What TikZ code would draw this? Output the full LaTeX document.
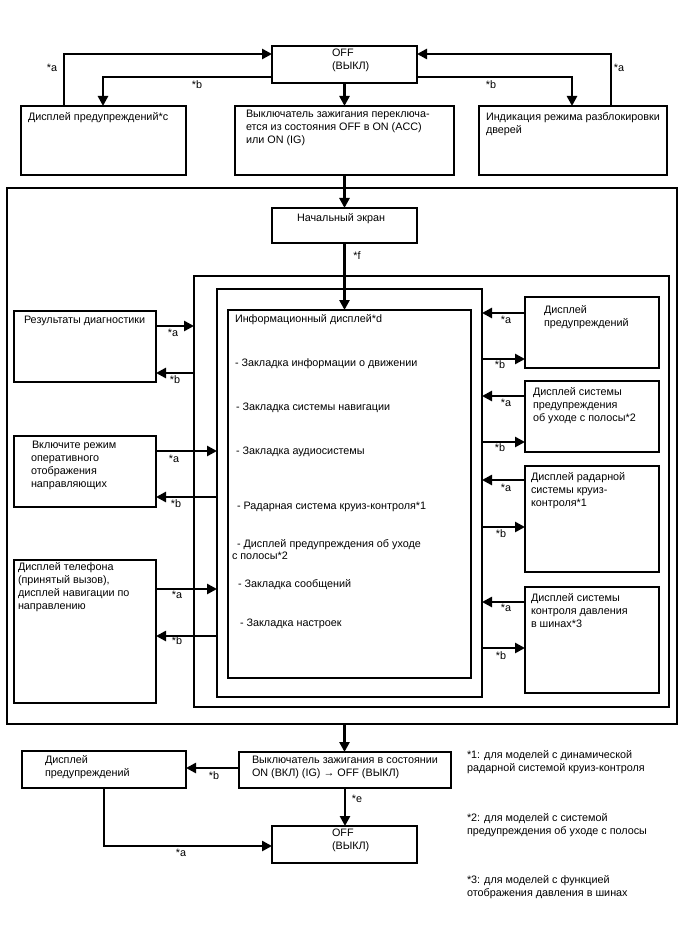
\documentclass[tikz,border=0pt]{standalone}
\usepackage{fontspec}
\setmainfont{Liberation Sans}
\usetikzlibrary{arrows.meta,calc}
\begin{document}
\begin{tikzpicture}[x=1pt,y=-1pt,
  box/.style={draw, line width=1.4pt, inner sep=0pt, outer sep=0pt, anchor=north west},
  frame/.style={draw, line width=1.6pt, inner sep=0pt, outer sep=0pt, anchor=north west},
  conn/.style={line width=2.6pt, -{Triangle[length=10pt,width=10pt]}},
  txt/.style={inner sep=0pt, outer sep=0pt, anchor=north west, align=left, font=\fontsize{10.8}{13}\selectfont},
  lab/.style={inner sep=0pt, font=\fontsize{10.8}{13}\selectfont}]
\useasboundingbox (0,0) rectangle (688,949);
\fill[white] (0,0) rectangle (688,949);
% ---------- top ----------
\node[box, minimum width=145pt, minimum height=37pt] (off1) at (272,46) {};
\node[box, minimum width=165pt, minimum height=69pt] (wc) at (21,106) {};
\node[box, minimum width=219pt, minimum height=69pt] (ign) at (235,106) {};
\node[box, minimum width=188pt, minimum height=69pt] (door) at (479,106) {};
\node[txt] (toff1) at (332,48.5) {OFF\\(ВЫКЛ)};
\node[txt] (twc) at (28,112.5) {Дисплей предупреждений*c};
\node[txt] (tign) at (246,110.5) {Выключатель зажигания переключа-\\ется из состояния OFF в ON (ACC)\\или ON (IG)};
\node[txt] (tdoor) at (486,112.5) {Индикация режима разблокировки\\дверей};
\draw[conn] ($(wc.north west)+(43,0)$) |- ($(off1.north west)+(0,8)$);
\draw[conn] ($(off1.south west)+(0,-6)$) -| ($(wc.north west)+(82,0)$);
\draw[conn] (off1.south) -- (ign.north);
\draw[conn] ($(off1.south east)+(0,-6)$) -| ($(door.north west)+(93,0)$);
\draw[conn] ($(door.north west)+(132,0)$) |- ($(off1.north east)+(0,8)$);
\node[lab] (la1) at (52,68) {*a};
\node[lab] (lb1) at (197,85) {*b};
\node[lab] (lb2) at (491,85) {*b};
\node[lab] (la2) at (619,68) {*a};
% ---------- frames ----------
\node[frame, minimum width=670pt, minimum height=536pt] (outer) at (7,188) {};
\node[frame, minimum width=475pt, minimum height=431pt] (fr2) at (194,276) {};
\node[frame, minimum width=265pt, minimum height=408pt] (fr3) at (217,289) {};
\node[box, minimum width=243pt, minimum height=368pt] (info) at (228,310) {};
\node[box, minimum width=145pt, minimum height=35pt] (start) at (272,208) {};
\node[txt] (tstart) at (297,213.5) {Начальный экран};
\draw[conn] (ign.south) -- (ign.south |- start.north);
\draw[conn] (start.south) -- (start.south |- info.north);
\node[lab] (lf) at (357,256) {*f};
% info text
\node[txt] (tinfo) at (235,314.5) {Информационный дисплей*d};
\node[txt] (i1) at (235,358.5) {- Закладка информации о движении};
\node[txt] (i2) at (236,402.5) {- Закладка системы навигации};
\node[txt] (i3) at (236,446.5) {- Закладка аудиосистемы};
\node[txt] (i4) at (237,502.5) {- Радарная система круиз-контроля*1};
\node[txt] (i5) at (237,539.5) {- Дисплей предупреждения об уходе};
\node[txt] (i5b) at (232,551.5) {с полосы*2};
\node[txt] (i6) at (238,579.5) {- Закладка сообщений};
\node[txt] (i7) at (240,618.5) {- Закладка настроек};
% ---------- left boxes ----------
\node[box, minimum width=142pt, minimum height=71pt] (diag) at (14,311) {};
\node[box, minimum width=142pt, minimum height=71pt] (guide) at (14,436) {};
\node[box, minimum width=142pt, minimum height=143pt] (phone) at (14,560) {};
\node[txt] (tdiag) at (24,316.5) {Результаты диагностики};
\node[txt] (tguide) at (31,441.5) {\hspace{1pt}Включите режим\\оперативного\\отображения\\направляющих};
\node[txt] (tphone) at (18,562.5) {Дисплей телефона\\(принятый вызов),\\дисплей навигации по\\направлению};
\coordinate (da) at ($(diag.north east)+(0,15)$);
\coordinate (db) at ($(diag.north east)+(0,62)$);
\coordinate (ga) at ($(guide.north east)+(0,15)$);
\coordinate (gb) at ($(guide.north east)+(0,61)$);
\coordinate (pa) at ($(phone.north east)+(0,29)$);
\coordinate (pb) at ($(phone.north east)+(0,76)$);
\draw[conn] (da) -- (da -| fr2.west);
\draw[conn] (db -| fr2.west) -- (db);
\draw[conn] (ga) -- (ga -| fr3.west);
\draw[conn] (gb -| fr3.west) -- (gb);
\draw[conn] (pa) -- (pa -| fr3.west);
\draw[conn] (pb -| fr3.west) -- (pb);
\node[lab] (lda) at (173,333) {*a};
\node[lab] (ldb) at (175,380) {*b};
\node[lab] (lga) at (174,459) {*a};
\node[lab] (lgb) at (176,504) {*b};
\node[lab] (lpa) at (177,595) {*a};
\node[lab] (lpb) at (177,641) {*b};
% ---------- right boxes ----------
\node[box, minimum width=134pt, minimum height=71pt] (wr1) at (525,297) {};
\node[box, minimum width=134pt, minimum height=71pt] (lane) at (525,381) {};
\node[box, minimum width=134pt, minimum height=106pt] (radar) at (525,466) {};
\node[box, minimum width=134pt, minimum height=106pt] (tire) at (525,587) {};
\node[txt] (twr1) at (544,305.5) {Дисплей\\предупреждений};
\node[txt] (tlane) at (533,387.5) {Дисплей системы\\предупреждения\\об уходе с полосы*2};
\node[txt] (tradar) at (531,472.5) {Дисплей радарной\\системы круиз-\\контроля*1};
\node[txt] (ttire) at (531,593.5) {Дисплей системы\\контроля давления\\в шинах*3};
\coordinate (wa) at ($(wr1.north west)+(0,16)$);
\coordinate (wb) at ($(wr1.north west)+(0,62)$);
\coordinate (na) at ($(lane.north west)+(0,15)$);
\coordinate (nb) at ($(lane.north west)+(0,61)$);
\coordinate (ra) at ($(radar.north west)+(0,14)$);
\coordinate (rb) at ($(radar.north west)+(0,61)$);
\coordinate (ta) at ($(tire.north west)+(0,15)$);
\coordinate (tb) at ($(tire.north west)+(0,61)$);
\draw[conn] (wa) -- (wa -| fr3.east);
\draw[conn] (wb -| fr3.east) -- (wb);
\draw[conn] (na) -- (na -| fr3.east);
\draw[conn] (nb -| fr3.east) -- (nb);
\draw[conn] (ra) -- (ra -| fr3.east);
\draw[conn] (rb -| fr3.east) -- (rb);
\draw[conn] (ta) -- (ta -| fr3.east);
\draw[conn] (tb -| fr3.east) -- (tb);
\node[lab] (lwa) at (506,320) {*a};
\node[lab] (lwb) at (500,365) {*b};
\node[lab] (lna) at (506,403) {*a};
\node[lab] (lnb) at (500,448) {*b};
\node[lab] (lra) at (506,488) {*a};
\node[lab] (lrb) at (501,534) {*b};
\node[lab] (lta) at (506,608) {*a};
\node[lab] (ltb) at (501,656) {*b};
% ---------- bottom ----------
\node[box, minimum width=212pt, minimum height=36pt] (ign2) at (239,752) {};
\node[box, minimum width=164pt, minimum height=37pt] (wp) at (22,751) {};
\node[box, minimum width=145pt, minimum height=37pt] (off2) at (272,826) {};
\node[txt] (tign2) at (252,756.5) {Выключатель зажигания в состоянии\\ON (ВКЛ) (IG) → OFF (ВЫКЛ)};
\node[txt] (twp) at (45,755.5) {Дисплей\\предупреждений};
\node[txt] (toff2) at (332,828.5) {OFF\\(ВЫКЛ)};
\draw[conn] (ign.south |- outer.south) -- (ign.south |- ign2.north);
\draw[conn] (ign2.south) -- (ign2.south |- off2.north);
\coordinate (bb) at ($(ign2.north west)+(0,16)$);
\draw[conn] (bb) -- (bb -| wp.east);
\draw[conn] ($(wp.south west)+(82,0)$) |- ($(off2.north west)+(0,20)$);
\node[lab] (lbb) at (214,776) {*b};
\node[lab] (le) at (357,799) {*e};
\node[lab] (lba) at (181,853) {*a};
% ---------- notes ----------
\node[txt] (n1) at (467,750.5) {*1: для моделей с динамической\\радарной системой круиз-контроля};
\node[txt] (n2) at (467,813.5) {*2: для моделей с системой\\предупреждения об уходе с полосы};
\node[txt] (n3) at (467,875.5) {*3: для моделей с функцией\\отображения давления в шинах};
\end{tikzpicture}
\end{document}
